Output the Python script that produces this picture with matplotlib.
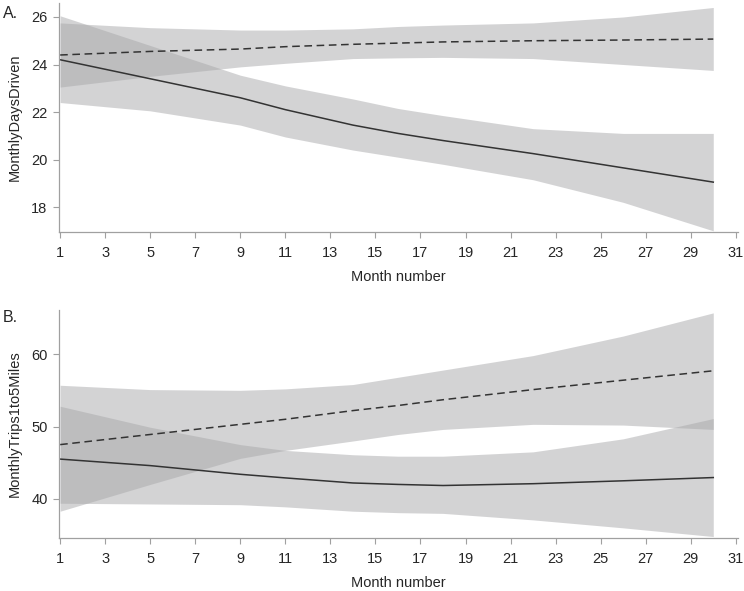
import numpy as np
import matplotlib
matplotlib.use('Agg')
import matplotlib.pyplot as plt

plt.rcParams['font.family'] = ['Liberation Sans', 'DejaVu Sans']

months = [1, 5, 9, 11, 14, 16, 18, 22, 26, 30]

# Panel A: MonthlyDaysDriven
a_solid = [24.2, 23.4, 22.6, 22.1, 21.45, 21.1, 20.8, 20.25, 19.65, 19.05]
a_solid_hi = [26.05, 24.8, 23.55, 23.1, 22.55, 22.15, 21.85, 21.3, 21.1, 21.1]
a_solid_lo = [22.4, 22.05, 21.45, 20.95, 20.4, 20.1, 19.8, 19.15, 18.2, 17.0]
a_dash = [24.4, 24.55, 24.65, 24.75, 24.85, 24.9, 24.95, 25.0, 25.03, 25.07]
a_dash_hi = [25.75, 25.55, 25.45, 25.45, 25.5, 25.6, 25.66, 25.75, 26.0, 26.4]
a_dash_lo = [23.05, 23.5, 23.9, 24.05, 24.25, 24.28, 24.3, 24.25, 24.0, 23.75]

# Panel B: MonthlyTrips1to5Miles
b_solid = [45.5, 44.6, 43.4, 42.9, 42.2, 42.0, 41.85, 42.1, 42.5, 42.95]
b_solid_hi = [52.8, 49.9, 47.5, 46.7, 46.1, 45.9, 45.9, 46.5, 48.3, 51.1]
b_solid_lo = [39.4, 39.3, 39.2, 38.9, 38.3, 38.1, 38.0, 37.1, 36.0, 34.8]
b_dash = [47.5, 48.9, 50.3, 51.0, 52.2, 52.9, 53.7, 55.1, 56.4, 57.7]
b_dash_hi = [55.7, 55.1, 55.0, 55.2, 55.8, 56.8, 57.8, 59.8, 62.5, 65.7]
b_dash_lo = [38.3, 42.0, 45.6, 46.7, 48.0, 48.9, 49.6, 50.3, 50.2, 49.6]

xticks = list(range(1, 32, 2))

fig = plt.figure(figsize=(7.44, 5.91), dpi=100)
axA = fig.add_axes([0.0793, 0.6074, 0.9127, 0.388])
axB = fig.add_axes([0.0793, 0.0897, 0.9127, 0.3858])

band = '#a8a8aa'
line_c = '#333333'
spine_c = '#a0a0a0'
text_c = '#262626'


def draw(ax, s, s_hi, s_lo, d, d_hi, d_lo, ylabel, yticks, ylim):
    ax.fill_between(months, s_lo, s_hi, color=band, alpha=0.5, lw=0)
    ax.fill_between(months, d_lo, d_hi, color=band, alpha=0.5, lw=0)
    ax.plot(months, s, color=line_c, lw=1.1)
    ax.plot(months, d, color=line_c, lw=1.1, dashes=(5, 3))
    ax.set_xlim(0.95, 31.1)
    ax.set_ylim(*ylim)
    ax.set_xticks(xticks)
    ax.set_yticks(yticks)
    for sp in ['top', 'right']:
        ax.spines[sp].set_visible(False)
    for sp in ['left', 'bottom']:
        ax.spines[sp].set_color(spine_c)
        ax.spines[sp].set_linewidth(0.9)
    ax.tick_params(colors=spine_c, labelcolor=text_c, labelsize=10.5,
                   length=4.2, width=0.8)
    ax.tick_params(axis='x', pad=6)
    ax.tick_params(axis='y', pad=4)
    ax.set_xlabel('Month number', fontsize=10.5, color=text_c, labelpad=7)
    ax.set_ylabel(ylabel, fontsize=10.5, color=text_c, labelpad=7)


draw(axA, a_solid, a_solid_hi, a_solid_lo, a_dash, a_dash_hi, a_dash_lo,
     'MonthlyDaysDriven', [18, 20, 22, 24, 26], (16.95, 26.6))
draw(axB, b_solid, b_solid_hi, b_solid_lo, b_dash, b_dash_hi, b_dash_lo,
     'MonthlyTrips1to5Miles', [40, 50, 60], (34.6, 66.1))

fig.text(0.004, 0.978, 'A.', fontsize=11.5, va='center', ha='left', color=text_c)
fig.text(0.004, 0.462, 'B.', fontsize=11.5, va='center', ha='left', color=text_c)

fig.savefig('out.png', dpi=100)
